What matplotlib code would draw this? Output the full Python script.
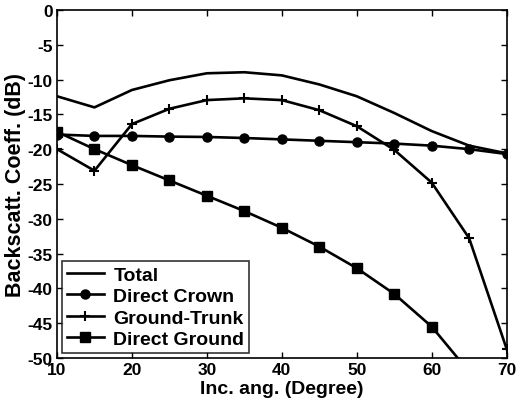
import matplotlib
matplotlib.use("Agg")
import matplotlib.pyplot as plt

plt.rcParams['font.family'] = ['Liberation Sans', 'DejaVu Sans']
plt.rcParams['font.weight'] = 'bold'
plt.rcParams['axes.unicode_minus'] = False

# Incidence angles (degrees)
angles = [10, 15, 20, 25, 30, 35, 40, 45, 50, 55, 60, 65, 70]

# Backscattering coefficients (dB)
total = [-12.4, -14.0, -11.5, -10.1, -9.1, -8.95, -9.4, -10.7, -12.4, -14.8, -17.4, -19.5, -20.6]
direct_crown = [-17.9, -18.1, -18.1, -18.2, -18.25, -18.4, -18.6, -18.8, -19.0, -19.2, -19.5, -20.0, -20.7]
ground_trunk = [-20.0, -23.1, -16.4, -14.2, -12.95, -12.7, -12.95, -14.4, -16.7, -20.1, -24.8, -32.8, -48.7]
direct_ground = [-17.5, -20.0, -22.3, -24.5, -26.7, -28.9, -31.3, -34.0, -37.1, -40.8, -45.5, -52.0, -59.0]

fig = plt.figure(figsize=(5.18, 4.06), dpi=100)
ax = fig.add_axes([0.110, 0.116, 0.868, 0.857])

lw = 1.9
ax.plot(angles, total, color='black', lw=lw, label='Total')
ax.plot(angles, direct_crown, color='black', lw=lw, marker='o', ms=6.5, label='Direct Crown')
ax.plot(angles, ground_trunk, color='black', lw=lw, marker='+', ms=7, mew=1.5, label='Ground-Trunk')
ax.plot(angles, direct_ground, color='black', lw=lw, marker='s', ms=6.5, label='Direct Ground')

ax.set_xlim(10, 70)
ax.set_ylim(-50, 0)
ax.set_xticks(range(10, 71, 10))
ax.set_yticks(range(-50, 1, 5))
ax.tick_params(direction='in', length=4, width=1, top=True, right=True,
               labelsize=12.5, pad=3)
for s in ax.spines.values():
    s.set_linewidth(1.2)

ax.set_xlabel('Inc. ang. (Degree)', fontsize=14, fontweight='bold', labelpad=2)
ax.set_ylabel('Backscatt. Coeff. (dB)', fontsize=15.5, fontweight='bold', labelpad=1)

leg = ax.legend(loc='lower left', fontsize=14, frameon=True, fancybox=False,
                edgecolor='black', borderaxespad=0.25, handlelength=1.9,
                labelspacing=0.2, borderpad=0.25, handletextpad=0.5)
leg.get_frame().set_linewidth(1.2)

fig.savefig('out.png', dpi=100)
